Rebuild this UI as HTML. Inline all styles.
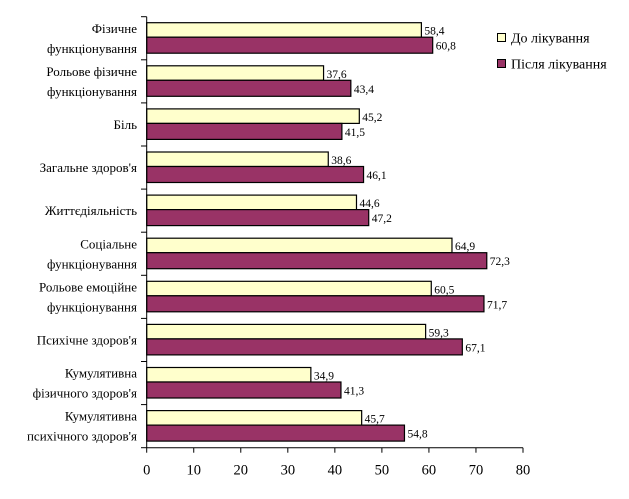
<!DOCTYPE html>
<html><head><meta charset="utf-8"><style>
body{margin:0;background:#fff;}
svg{display:block;font-family:"Liberation Serif",serif;}
</style></head><body>
<svg id="chart" width="629" height="499"></svg>
<script>
const categories=[["Фізичне","функціонування"],["Рольове фізичне","функціонування"],["Біль"],["Загальне здоров'я"],["Життєдіяльність"],["Соціальне","функціонування"],["Рольове емоційне","функціонування"],["Психічне здоров'я"],["Кумулятивна","фізичного здоров'я"],["Кумулятивна","психічного здоров'я"]];
const before=[58.4,37.6,45.2,38.6,44.6,64.9,60.5,59.3,34.9,45.7];
const after=[60.8,43.4,41.5,46.1,47.2,72.3,71.7,67.1,41.3,54.8];
const ticks=[0,10,20,30,40,50,60,70,80];
const svg=document.getElementById('chart');
const NS='http://www.w3.org/2000/svg';
const x0=146.7,x1=523,yTop=16.7,yBottom=447.7,xmax=80;
const X=v=>x0+(x1-x0)*v/xmax;
const gh=(yBottom-yTop)/categories.length;
function mk(t,a){const e=document.createElementNS(NS,t);for(const k in a)e.setAttribute(k,a[k]);svg.appendChild(e);return e;}
const fmt=v=>v.toFixed(1).replace('.',',');
categories.forEach((c,i)=>{
  const gy=yTop+i*gh;
  const b=mk('rect',{x:x0,y:gy+6,width:X(before[i])-x0,height:14.5,fill:'#FFFFCC',stroke:'#000','stroke-width':1.2});
  
  
  const a=mk('rect',{x:x0,y:gy+20.5,width:X(after[i])-x0,height:16,fill:'#993366',stroke:'#000','stroke-width':1.2});
  
  
  const t1=mk('text',{x:X(before[i])+3,y:gy+18,'font-size':11.5});t1.textContent=fmt(before[i]);
  
  
  const t2=mk('text',{x:X(after[i])+3,y:gy+33,'font-size':11.5});t2.textContent=fmt(after[i]);
  
  
  const cy=gy+gh/2;
  c.forEach((l,j)=>{
    const yy=c.length==1?cy+4.5:cy+4.5+(j-0.5)*20;
    const t=mk('text',{x:137,y:yy,'text-anchor':'end','font-size':13});t.textContent=l;
    
    
  });
});
for(let i=0;i<=categories.length;i++){mk('line',{x1:141,x2:x0,y1:yTop+i*gh,y2:yTop+i*gh,stroke:'#000'});}
const ax=mk('line',{x1:x0,x2:x0,y1:yTop,y2:yBottom,stroke:'#000'});


const bx=mk('line',{x1:x0,x2:x1,y1:yBottom,y2:yBottom,stroke:'#000'});


ticks.forEach(v=>{
  mk('line',{x1:X(v),x2:X(v),y1:yBottom,y2:yBottom+5,stroke:'#000'});
  const t=mk('text',{x:X(v),y:yBottom+27,'text-anchor':'middle','font-size':14.5});t.textContent=v;
  
  
});
const lg=[['#FFFFCC','До лікування',33],['#993366','Після лікування',59]];
lg.forEach(([c,l,y])=>{
  const r=mk('rect',{x:497.5,y:y+0.5,width:8,height:8,fill:c,stroke:'#000'});
  
  
  const t=mk('text',{x:511,y:y+9.5,'font-size':14});t.textContent=l;
  
  
});
</script>
</body></html>
